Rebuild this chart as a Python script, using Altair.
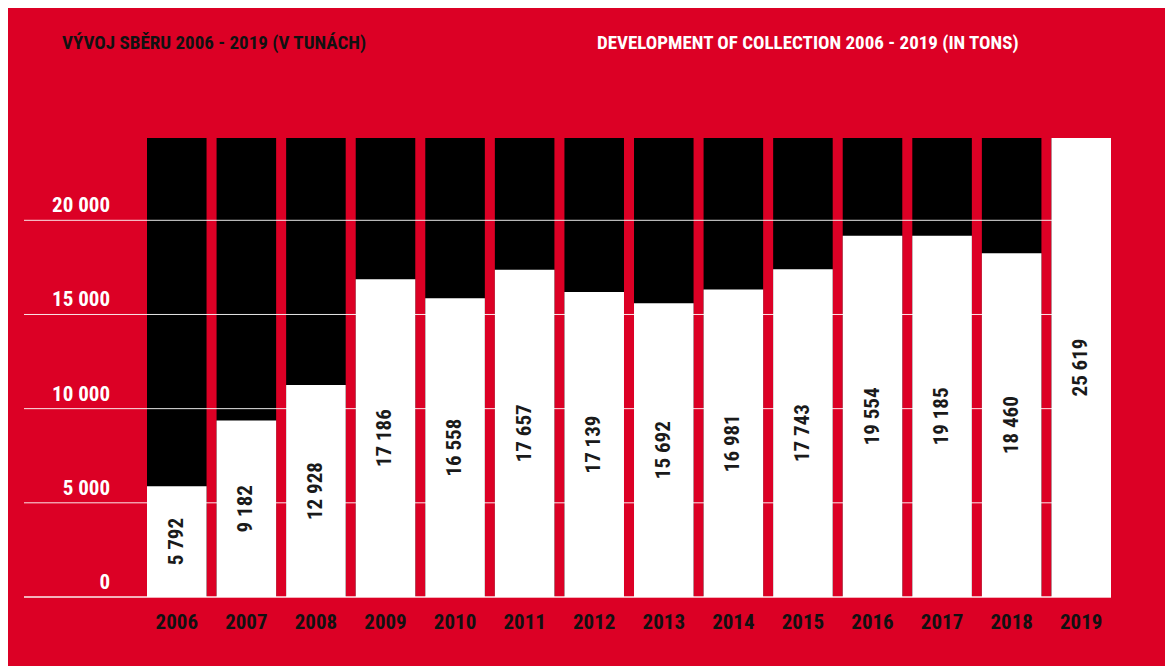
import altair as alt
import pandas as pd

# ---- data ----
years = ["2006", "2007", "2008", "2009", "2010", "2011", "2012",
         "2013", "2014", "2015", "2016", "2017", "2018", "2019"]
# printed values (tons)
labels = [5792, 9182, 12928, 17186, 16558, 17657, 17139,
          15692, 16981, 17743, 19554, 19185, 18460, 25619]
# heights of the white bars as drawn in the picture (they differ from the printed numbers)
bar_heights = [5880, 9370, 11250, 16870, 15860, 17380, 16190,
               15590, 16330, 17400, 19180, 19180, 18250, 24370]
# height of the black background columns
column_top = 24370
tick_values = [0, 5000, 10000, 15000, 20000]

title_cz = "VÝVOJ SBĚRU 2006 - 2019 (V TUNÁCH)"
title_en = "DEVELOPMENT OF COLLECTION 2006 - 2019 (IN TONS)"

RED = "#DC0025"
FONT = ("'Noto Sans ExtraCondensed', 'Roboto Condensed', 'Noto Sans Condensed', "
        "'Liberation Sans Narrow', 'DejaVu Sans Condensed', sans-serif")


def fmt(v):
    return f"{v:,}".replace(",", " ")


df = pd.DataFrame({
    "year": years,
    "value": labels,
    "height": bar_heights,
    "top": [column_top] * len(years),
    "label": [fmt(v) for v in labels],
})
ticks = pd.DataFrame({"tick": tick_values, "tlabel": [fmt(v) for v in tick_values]})
titles = pd.DataFrame({"t": [title_cz, title_en], "col": ["cz", "en"]})

W, H = 964, 459

xenc = alt.X("year:O", title=None,
             scale=alt.Scale(paddingInner=0.144, paddingOuter=0, round=False),
             axis=alt.Axis(domain=False, ticks=False, labelAngle=0,
                           labelFont=FONT, labelFontSize=21, labelFontWeight="bold",
                           labelColor="#111111", labelPadding=14))
yscale = alt.Scale(domain=[0, column_top], nice=False, zero=True)

base = alt.Chart(df)

black = base.mark_bar(color="black", cornerRadius=0).encode(
    x=xenc,
    y=alt.Y("top:Q", scale=yscale, axis=None),
)

grid = alt.Chart(ticks).mark_rule(opacity=0.9).encode(
    y=alt.Y("tick:Q", scale=yscale, axis=None),
    x=alt.value(-123),
    x2=alt.value(W),
    color=alt.condition("datum.tick == 0", alt.value("#F6C4CC"), alt.value("white")),
    strokeWidth=alt.condition("datum.tick == 0", alt.value(2), alt.value(1)),
)

white = base.mark_bar(color="white").encode(
    x=alt.X("year:O"),
    y=alt.Y("height:Q", scale=yscale, axis=None),
)

vals = base.transform_calculate(mid="datum.height / 2").mark_text(
    angle=270, font=FONT, fontSize=21, fontWeight="bold", color="#1a1a1a",
    align="center", baseline="middle",
).encode(
    x=alt.X("year:O"),
    y=alt.Y("mid:Q", scale=yscale, axis=None),
    text="label:N",
)

ylabels = alt.Chart(ticks).mark_text(
    font=FONT, fontSize=21, fontWeight="bold", color="white",
    align="right", baseline="alphabetic", dy=-8,
).encode(
    y=alt.Y("tick:Q", scale=yscale, axis=None),
    x=alt.value(-37),
    text="tlabel:N",
)

title_cz_layer = alt.Chart(titles).transform_filter("datum.col == 'cz'").mark_text(
    font=FONT, fontSize=19, fontWeight="bold", color="#111111",
    align="left", baseline="middle",
).encode(x=alt.value(-85), y=alt.value(-95), text="t:N")

title_en_layer = alt.Chart(titles).transform_filter("datum.col == 'en'").mark_text(
    font=FONT, fontSize=19, fontWeight="bold", color="white",
    align="left", baseline="middle",
).encode(x=alt.value(450), y=alt.value(-95), text="t:N")

chart = alt.layer(
    black, grid, white, vals, ylabels, title_cz_layer, title_en_layer
).properties(
    width=W, height=H,
    autosize=alt.AutoSizeParams(type="none"),
    padding={"left": 139, "top": 130, "right": 54, "bottom": 69},
    background=RED,
).configure_view(stroke=None)

chart.save("out.html", embed_options={"renderer": "svg", "actions": False})
